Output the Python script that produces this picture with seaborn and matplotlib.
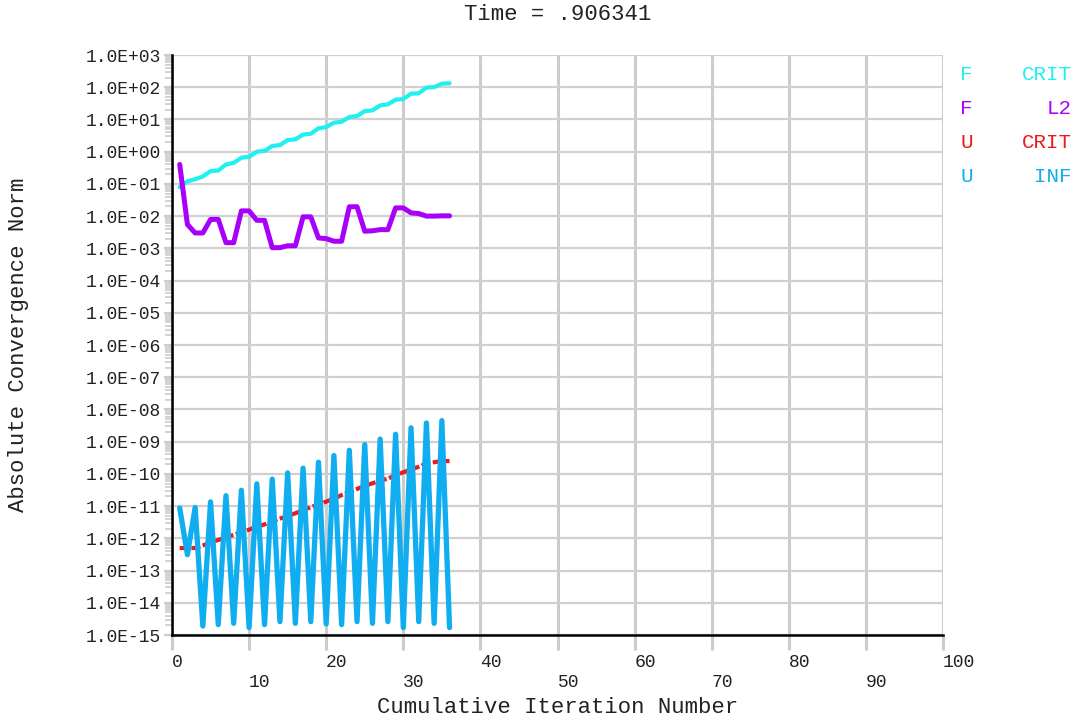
import matplotlib
matplotlib.use('Agg')
import numpy as np
import pandas as pd
import matplotlib.pyplot as plt
import seaborn as sns
from matplotlib.ticker import FixedLocator, LogLocator, NullFormatter, FuncFormatter

# cumulative iteration number
iterations = [1, 2, 3, 4, 5, 6, 7, 8, 9, 10, 11, 12, 13, 14, 15, 16, 17, 18,
              19, 20, 21, 22, 23, 24, 25, 26, 27, 28, 29, 30, 31, 32, 33, 34, 35, 36]

# convergence norms
f_crit = [7.9e-2, 1.2e-1, 1.4e-1, 1.7e-1, 2.5e-1, 2.6e-1, 4.0e-1, 4.5e-1, 6.5e-1, 6.9e-1,
          1.0, 1.05, 1.5, 1.6, 2.3, 2.4, 3.4, 3.6, 5.3, 5.8,
          7.9, 8.5, 11.9, 12.8, 18.2, 19.1, 27.4, 29.4, 41.0, 43.0,
          63.0, 65.0, 97.0, 101.0, 129.0, 132.0]
f_l2 = [4.0e-1, 5.5e-3, 3.0e-3, 3.0e-3, 7.9e-3, 7.9e-3, 1.5e-3, 1.5e-3, 1.45e-2, 1.45e-2,
        7.4e-3, 7.4e-3, 1.05e-3, 1.05e-3, 1.2e-3, 1.2e-3, 9.5e-3, 9.5e-3, 2.1e-3, 2.0e-3,
        1.66e-3, 1.66e-3, 1.95e-2, 1.95e-2, 3.4e-3, 3.5e-3, 3.8e-3, 3.8e-3, 1.8e-2, 1.8e-2,
        1.26e-2, 1.2e-2, 1.0e-2, 1.0e-2, 1.02e-2, 1.02e-2]
u_crit = [5.0e-13, 5.0e-13, 5.0e-13, 6.0e-13, 7.4e-13, 8.9e-13, 1.07e-12, 1.29e-12, 1.55e-12, 1.86e-12,
          2.3e-12, 2.7e-12, 3.4e-12, 4.1e-12, 4.9e-12, 6.0e-12, 7.4e-12, 9.3e-12, 1.12e-11, 1.38e-11,
          1.7e-11, 2.2e-11, 2.7e-11, 3.4e-11, 4.3e-11, 5.1e-11, 6.2e-11, 7.1e-11, 9.1e-11, 1.12e-10,
          1.38e-10, 1.66e-10, 2.1e-10, 2.3e-10, 2.5e-10, 2.5e-10]
u_inf = [8.7e-12, 3.1e-13, 9.1e-12, 1.9e-15, 1.35e-11, 2.1e-15, 2.1e-11, 2.3e-15, 3.1e-11, 1.7e-15,
         4.9e-11, 2.1e-15, 6.9e-11, 2.6e-15, 1.07e-10, 2.3e-15, 1.5e-10, 2.6e-15, 2.3e-10, 2.2e-15,
         3.7e-10, 2.1e-15, 5.4e-10, 2.6e-15, 8.1e-10, 2.3e-15, 1.2e-9, 2.6e-15, 1.7e-9, 1.7e-15,
         2.7e-9, 2.6e-15, 3.8e-9, 2.3e-15, 4.5e-9, 1.7e-15]

legend_fields = ['F', 'F', 'U', 'U']
legend_kinds = ['CRIT', 'L2', 'CRIT', 'INF']
series_keys = ['F CRIT', 'F L2', 'U CRIT', 'U INF']
colors = ['#1ff0f0', '#a800f8', '#f01818', '#10aef0']

x_ticks = [0, 10, 20, 30, 40, 50, 60, 70, 80, 90, 100]
y_exponents = [-15, -14, -13, -12, -11, -10, -9, -8, -7, -6, -5, -4, -3, -2, -1, 0, 1, 2, 3]

df = pd.DataFrame({
    'iteration': iterations * 4,
    'norm': f_crit + f_l2 + u_crit + u_inf,
    'series': [k for k in series_keys for _ in iterations],
})

sns.set_theme(style="white")
plt.rcParams['font.family'] = ['Liberation Mono', 'DejaVu Sans Mono']
text_color = '#222222'

fig = plt.figure(figsize=(10.79, 7.24), dpi=100)
ax = fig.add_axes([172 / 1079, 1 - 635 / 724, 771 / 1079, 580 / 724])

styles = {
    'F CRIT': dict(lw=3.0, ls='-'),
    'F L2': dict(lw=3.6, ls='-'),
    'U CRIT': dict(lw=3.0, ls=(0, (2.2, 0.6))),
    'U INF': dict(lw=3.8, ls='-'),
}
for key, col in zip(series_keys, colors):
    sns.lineplot(data=df[df['series'] == key], x='iteration', y='norm',
                 color=col, estimator=None, sort=False, ax=ax,
                 linewidth=styles[key]['lw'], linestyle=styles[key]['ls'])

ax.set_yscale('log')
ax.set_xlim(0, 100)
ax.set_ylim(1e-15, 1e3)

ax.yaxis.set_major_locator(FixedLocator([10.0 ** e for e in y_exponents]))
ax.yaxis.set_major_formatter(FuncFormatter(lambda v, p: f"{v:.1E}"))
ax.yaxis.set_minor_locator(LogLocator(base=10, subs=np.arange(2, 10), numticks=200))
ax.yaxis.set_minor_formatter(NullFormatter())

ax.set_xticks(x_ticks)
ax.set_xticklabels([str(t) if i % 2 == 0 else '\n' + str(t) for i, t in enumerate(x_ticks)],
                   ha='left')

ax.set_axisbelow(True)
ax.grid(True, which='major', axis='x', color='#cccccc', lw=2.2)
ax.grid(True, which='major', axis='y', color='#d0d0d0', lw=1.6)

ax.tick_params(axis='x', which='major', length=11, width=2.2, color='#cccccc',
               direction='out', pad=3, labelsize=13, labelcolor=text_color, bottom=True)
ax.tick_params(axis='y', which='major', length=6, width=1.6, color='#cccccc',
               direction='out', pad=2, labelsize=13, labelcolor=text_color, left=True)
ax.tick_params(axis='y', which='minor', length=5, width=1.2, color='#cccccc',
               direction='out', left=True)

for side in ['top', 'right']:
    ax.spines[side].set_visible(False)
for side in ['left', 'bottom']:
    ax.spines[side].set_color('black')
    ax.spines[side].set_linewidth(1.8)

ax.set_xlabel('Cumulative Iteration Number', fontsize=16, color=text_color, labelpad=4)
ax.set_ylabel('Absolute Convergence Norm', fontsize=16, color=text_color)
ax.yaxis.set_label_coords(-0.186, 0.5)
ax.set_title('Time = .906341', fontsize=16, color=text_color, pad=25)

# legend drawn as coloured text at the right side
for i, (field, kind, col) in enumerate(zip(legend_fields, legend_kinds, colors)):
    yc = 1 - (75 + 34 * i) / 724
    fig.text(960 / 1079, yc, field, color=col, fontsize=15, ha='left', va='center')
    fig.text(1072 / 1079, yc, kind, color=col, fontsize=15, ha='right', va='center')

fig.savefig('out.png', dpi=100)
